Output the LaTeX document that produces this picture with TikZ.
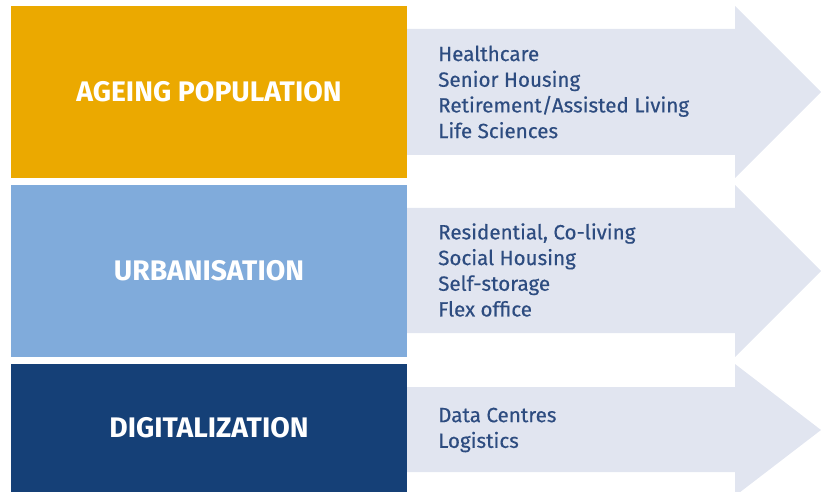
\documentclass[tikz,border=0pt]{standalone}
\usepackage{fontspec}
\setmainfont{Fira Sans}
\newfontfamily\listfont[FakeBold=0.4]{Fira Sans}
\usetikzlibrary{positioning}

\definecolor{agegold}{HTML}{EBA900}
\definecolor{urbanblue}{HTML}{80ABDB}
\definecolor{digiblue}{HTML}{154077}
\definecolor{arrowfill}{HTML}{E1E5F0}
\definecolor{listblue}{HTML}{2D4C80}

\tikzset{
  driver/.style={rectangle, inner sep=0pt, minimum width=396, text=white,
                 font=\fontsize{28.3}{31}\selectfont\bfseries},
  sectors/.style={anchor=west, inner sep=0pt, align=left, text=listblue,
                  font=\listfont\fontsize{20.6}{25.7}\selectfont},
  sectorarrow/.style={fill=arrowfill}
}

\begin{document}
\begin{tikzpicture}[x=1pt, y=-1pt]
    \useasboundingbox (0,0) rectangle (823,492);

    % Arrows behind the boxes
    \fill[sectorarrow] (400,29) -- (735,29) -- (735,6) -- (821,92)
        -- (735,178) -- (735,155) -- (400,155) -- cycle;
    \fill[sectorarrow] (400,208) -- (735,208) -- (735,185) -- (821,271)
        -- (735,357) -- (735,333) -- (400,333) -- cycle;
    \fill[sectorarrow] (400,387) -- (735,387) -- (735,364) -- (821,430)
        -- (735,496) -- (735,472) -- (400,472) -- cycle;

    % Ageing population
    \node[driver, fill=agegold, minimum height=172] (age) at (209,92) {AGEING POPULATION};
    \node[sectors] (agelist) at (438,92) {Healthcare\\Senior Housing\\Retirement/Assisted Living\\Life Sciences};

    % Urbanisation
    \node[driver, fill=urbanblue, minimum height=172] (urban) at (209,271) {URBANISATION};
    \node[sectors] (urbanlist) at (438,270) {Residential, Co-living\\Social Housing\\Self-storage\\Flex office};

    % Digitalization
    \node[driver, fill=digiblue, minimum height=128] (digital) at (209,428) {DIGITALIZATION};
    \node[sectors] (digitallist) at (438,430) {Data Centres\\Logistics};
\end{tikzpicture}
\end{document}
